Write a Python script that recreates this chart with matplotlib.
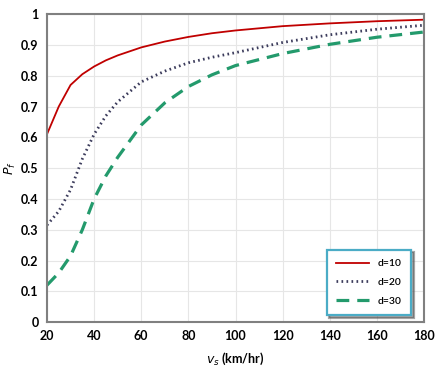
import numpy as np
import matplotlib
matplotlib.use("Agg")
import matplotlib.pyplot as plt

# speed v_s (km/hr) and P_f for each d
speed = [20, 25, 30, 35, 40, 45, 50, 60, 70, 80, 90, 100, 120, 140, 160, 180]
pf_d10 = [0.61, 0.70, 0.77, 0.805, 0.83, 0.85, 0.866, 0.892, 0.911, 0.926, 0.938, 0.947, 0.961, 0.97, 0.977, 0.982]
pf_d20 = [0.315, 0.36, 0.43, 0.53, 0.61, 0.67, 0.715, 0.78, 0.815, 0.842, 0.86, 0.875, 0.908, 0.933, 0.951, 0.964]
pf_d30 = [0.12, 0.16, 0.215, 0.30, 0.40, 0.475, 0.535, 0.64, 0.712, 0.765, 0.803, 0.833, 0.872, 0.902, 0.925, 0.942]

x_ticks = [20, 40, 60, 80, 100, 120, 140, 160, 180]
y_ticks = [0, 0.1, 0.2, 0.3, 0.4, 0.5, 0.6, 0.7, 0.8, 0.9, 1]
y_tick_labels = ["0", "0.1", "0.2", "0.3", "0.4", "0.5", "0.6", "0.7", "0.8", "0.9", "1"]

plt.rcParams['font.family'] = ['Lato', 'DejaVu Sans']

fig = plt.figure(figsize=(4.39, 3.72), dpi=100)
ax = fig.add_axes([0.107, 0.134, 0.859, 0.828])

ax.plot(speed, pf_d10, color="#c00000", lw=1.3, linestyle="-", label="d=10")
ax.plot(speed, pf_d20, color="#3c3c5c", lw=2.0, linestyle=(0, (0.6, 1.2)), label="d=20")
ax.plot(speed, pf_d30, color="#239a6c", lw=2.3, linestyle=(0, (4, 2.5)), label="d=30")

ax.set_xlim(20, 180)
ax.set_ylim(0, 1)
ax.set_xticks(x_ticks)
ax.set_yticks(y_ticks)
ax.set_yticklabels(y_tick_labels)
ax.grid(True, color="#e6e6e6", lw=0.8)
ax.set_axisbelow(True)
ax.tick_params(length=0, labelsize=9, pad=6)
for lab in ax.get_xticklabels() + ax.get_yticklabels():
    lab.set_fontweight("bold")

for side in ["left", "bottom", "right", "top"]:
    ax.spines[side].set_color("#808080")
    ax.spines[side].set_linewidth(1.5)

ax.set_xlabel(r"$\mathit{v_s}$ (km/hr)", fontsize=9, fontweight="bold", labelpad=6)
ax.set_ylabel(r"$\mathit{P_f}$", fontsize=9, labelpad=2)

leg = ax.legend(loc="lower right", bbox_to_anchor=(0.979, 0.006), fontsize=7.5,
                frameon=True, fancybox=False, shadow=True, handlelength=3.2,
                borderpad=0.9, labelspacing=0.9)
leg.get_frame().set_edgecolor("#4bacc6")
leg.get_frame().set_linewidth(1.6)
for txt in leg.get_texts():
    txt.set_fontweight("semibold")

fig.savefig("out.png", dpi=100)
